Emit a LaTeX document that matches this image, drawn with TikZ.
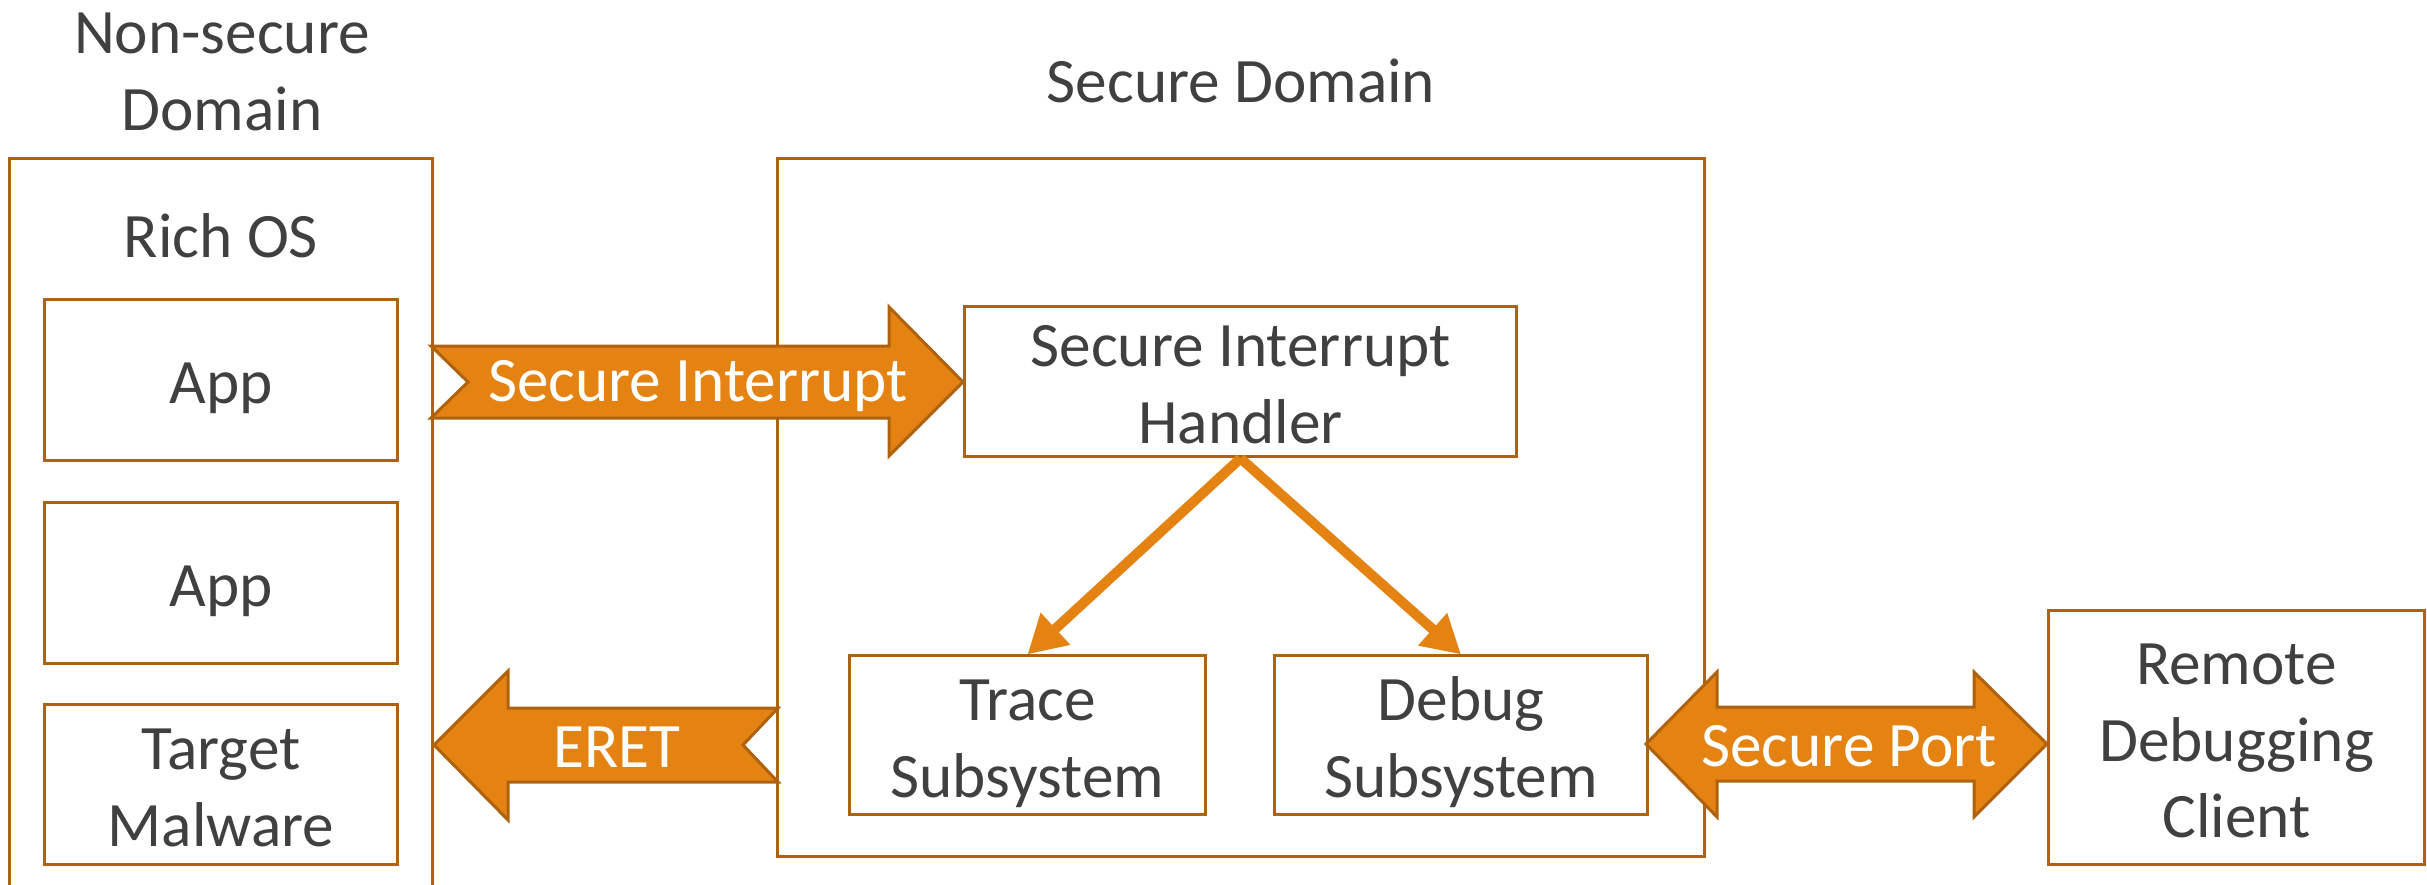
\documentclass[tikz,border=0pt]{standalone}
\usepackage{fontspec}
\setmainfont{Carlito}
\usetikzlibrary{arrows.meta}

\definecolor{Rim}{RGB}{175,98,14}
\definecolor{Flow}{RGB}{228,130,18}
\definecolor{Ink}{RGB}{64,64,64}
\newcommand{\Sp}{\rule[-0.21em]{0pt}{1.17em}}

\begin{document}
\begin{tikzpicture}
[
x=0.01cm, y=-0.01cm,
every node/.style={font=\fontsize{18}{21.8}\selectfont, text=Ink, align=center, inner sep=0pt},
Box/.style={rectangle, draw=Rim, fill=white, line width=0.03cm},
Band/.style={draw=Rim, fill=Flow, line width=0.03cm, line join=miter},
Label/.style={text=white},
Link/.style={draw=Flow, line width=0.1cm, -{Triangle[length=0.38cm,width=0.41cm]}},
]
\useasboundingbox (0,0) rectangle (2427,885);

% non-secure side
\node[Box, minimum width=4.22cm, minimum height=7.42cm] (nsdomain) at (221,530) {};
\node (nstitle) at (222,68) {\Sp Non-secure\\\Sp Domain};
\node (richos) at (221,234) {\Sp Rich OS};
\node[Box, minimum width=3.52cm, minimum height=1.6cm] (appone) at (221,380) {\Sp App};
\node[Box, minimum width=3.52cm, minimum height=1.6cm] (apptwo) at (221,583) {\Sp App};
\node[Box, minimum width=3.52cm, minimum height=1.59cm] (malware) at (221,784.5) {\Sp Target\\\Sp Malware};

% secure side
\node[Box, minimum width=9.26cm, minimum height=6.97cm] (sdomain) at (1241,507.5) {};
\node (stitle) at (1241,79) {\Sp Secure Domain};
\node[Box, minimum width=5.51cm, minimum height=1.45cm] (handler) at (1240.5,381.5) {\Sp Secure Interrupt\\\Sp Handler};
\node[Box, minimum width=3.55cm, minimum height=1.58cm] (trace) at (1027.5,735) {\Sp Trace\\\Sp Subsystem};
\node[Box, minimum width=3.72cm, minimum height=1.58cm] (debug) at (1461,735) {\Sp Debug\\\Sp Subsystem};

% remote client
\node[Box, minimum width=3.75cm, minimum height=2.53cm] (remote) at (2236.5,737.5) {\Sp Remote\\\Sp Debugging\\\Sp Client};

\draw[Link] (handler.south) -- (trace.north);
\draw[Link] (handler.south) -- (debug.north);

% block arrows
\draw[Band] (431,346) -- (889,346) -- (889,307) -- (963,382) -- (889,456) -- (889,418) -- (431,418) -- (468,382) -- cycle;
\draw[Band] (434,745) -- (508,671) -- (508,708) -- (778,708) -- (743,745) -- (778,782) -- (508,782) -- (508,820) -- cycle;
\draw[Band] (1646,744) -- (1717,672) -- (1717,707) -- (1974,707) -- (1974,672) -- (2047,744) -- (1974,817) -- (1974,781) -- (1717,781) -- (1717,817) -- cycle;

\node[Label] (interrupt) at (698,378) {\Sp Secure Interrupt};
\node[Label] (eret) at (617,744) {\Sp ERET};
\node[Label] (port) at (1849,743) {\Sp Secure Port};

\end{tikzpicture}
\end{document}
